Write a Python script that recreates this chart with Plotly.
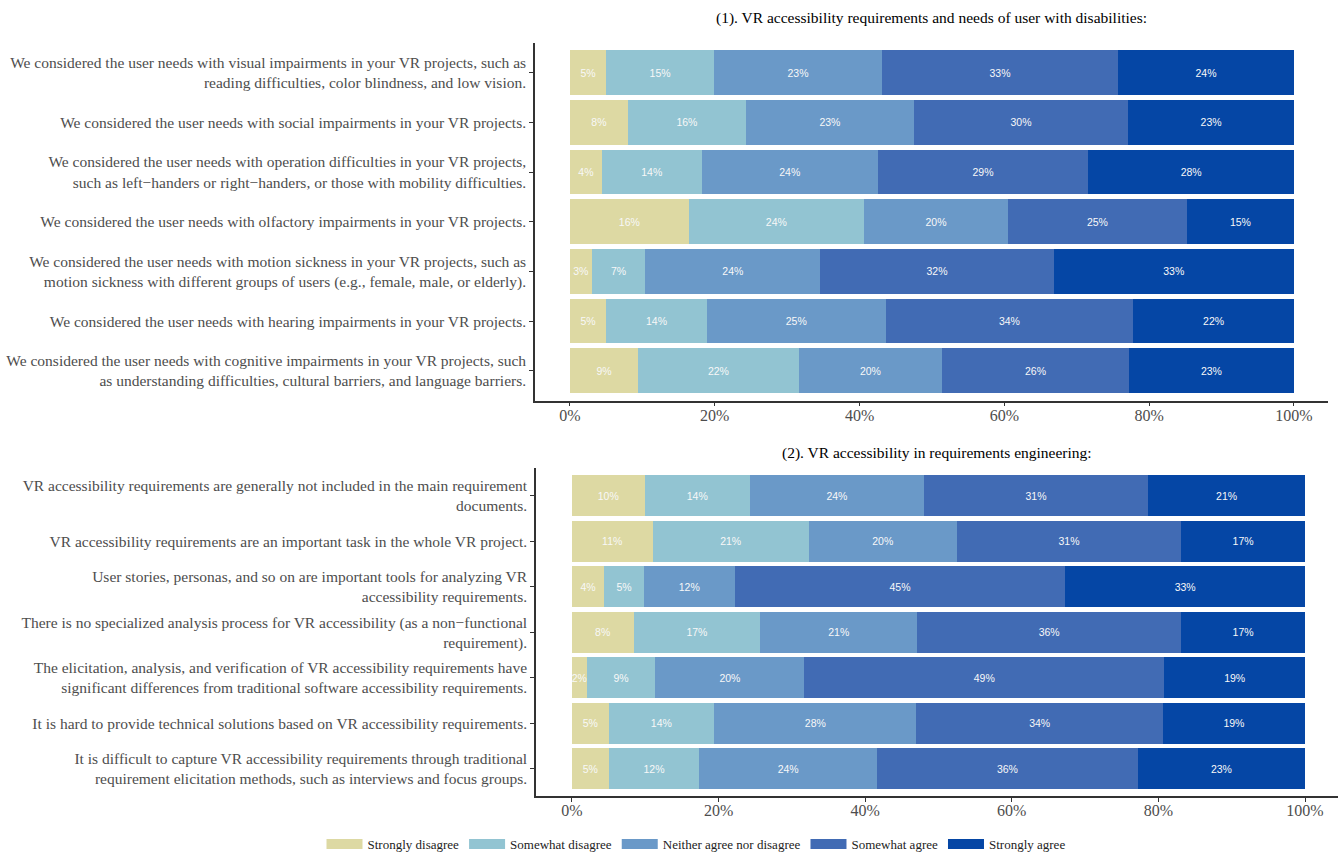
import plotly.graph_objects as go

W, H = 1341, 859

levels = ["Strongly disagree", "Somewhat disagree", "Neither agree nor disagree",
          "Somewhat agree", "Strongly agree"]
colors = ["#DDD9A3", "#92C4D2", "#6A99C8", "#416BB4", "#0546A5"]

# Panel 1 questions (top to bottom)
p1_questions = [
    "We considered the user needs with visual impairments in your VR projects, such as<br>reading difficulties, color blindness, and low vision.",
    "We considered the user needs with social impairments in your VR projects.",
    "We considered the user needs with operation difficulties in your VR projects,<br>such as left\u2212handers or right\u2212handers, or those with mobility difficulties.",
    "We considered the user needs with olfactory impairments in your VR projects.",
    "We considered the user needs with motion sickness in your VR projects, such as<br>motion sickness with different groups of users (e.g., female, male, or elderly).",
    "We considered the user needs with hearing impairments in your VR projects.",
    "We considered the user needs with cognitive impairments in your VR projects, such<br>as understanding difficulties, cultural barriers, and language barriers.",
]
p1_strongly_disagree = [5.0, 8.0, 4.4, 16.4, 3.0, 5.0, 9.4]
p1_somewhat_disagree = [14.9, 16.3, 13.8, 24.2, 7.4, 13.9, 22.2]
p1_neither = [23.2, 23.2, 24.3, 19.9, 24.2, 24.7, 19.8]
p1_somewhat_agree = [32.6, 29.6, 29.1, 24.7, 32.2, 34.2, 25.8]
p1_strongly_agree = [24.3, 22.9, 28.4, 14.8, 33.2, 22.2, 22.8]

# Panel 2 questions (top to bottom)
p2_questions = [
    "VR accessibility requirements are generally not included in the main requirement<br>documents.",
    "VR accessibility requirements are an important task in the whole VR project.",
    "User stories, personas, and so on are important tools for analyzing VR<br>accessibility requirements.",
    "There is no specialized analysis process for VR accessibility (as a non\u2212functional<br>requirement).",
    "The elicitation, analysis, and verification of VR accessibility requirements have<br>significant differences from traditional software accessibility requirements.",
    "It is hard to provide technical solutions based on VR accessibility requirements.",
    "It is difficult to capture VR accessibility requirements through traditional<br>requirement elicitation methods, such as interviews and focus groups.",
]
p2_strongly_disagree = [9.9, 11.0, 4.4, 8.4, 2.0, 5.0, 5.0]
p2_somewhat_disagree = [14.4, 21.3, 5.4, 17.3, 9.4, 14.4, 12.4]
p2_neither = [23.7, 20.2, 12.4, 21.4, 20.3, 27.6, 24.2]
p2_somewhat_agree = [30.6, 30.6, 45.1, 36.0, 49.1, 33.6, 35.6]
p2_strongly_agree = [21.4, 16.9, 32.7, 16.9, 19.2, 19.4, 22.8]

x_tickvals = [0, 20, 40, 60, 80, 100]
x_ticktext = ["0%", "20%", "40%", "60%", "80%", "100%"]

titles = ["(1). VR accessibility requirements and needs of user with disabilities:",
          "(2). VR accessibility in requirements engineering:"]

p1_series = [p1_strongly_disagree, p1_somewhat_disagree, p1_neither, p1_somewhat_agree, p1_strongly_agree]
p2_series = [p2_strongly_disagree, p2_somewhat_disagree, p2_neither, p2_somewhat_agree, p2_strongly_agree]

fig = go.Figure()

def add_panel(series, questions, xa, ya):
    for name, col, vals in zip(levels, colors, series):
        fig.add_trace(go.Bar(
            x=vals, y=questions, orientation="h", name=name,
            marker=dict(color=col, line=dict(width=0)),
            width=0.9,
            text=[f"{round(v)}%" for v in vals],
            textposition="inside", insidetextanchor="middle", textangle=0,
            constraintext="none",
            textfont=dict(family="Liberation Sans, Arial", size=10.5, color="#F8F8F8"),
            xaxis=xa, yaxis=ya, legendgroup=name, showlegend=False,
            hoverinfo="skip",
        ))

add_panel(p1_series, p1_questions, "x", "y")
add_panel(p2_series, p2_questions, "x2", "y2")

# legend keys (wide rectangular swatches)
for name, col in zip(levels, colors):
    fig.add_trace(go.Scatter(
        x=[None], y=[None], mode="lines", name=name,
        line=dict(color=col, width=12), legendgroup=name, showlegend=True,
        xaxis="x", yaxis="y", hoverinfo="skip",
    ))

axis_line = dict(showline=True, linecolor="#333333", linewidth=1.6, mirror=False,
                 ticks="outside", ticklen=4, tickwidth=1.2, tickcolor="#333333",
                 showgrid=False, zeroline=False)

serif = "Liberation Serif, Times New Roman, serif"

def px_x(a, b):
    return [a / W, b / W]

def px_y(top, bottom):
    return [1 - bottom / H, 1 - top / H]

fig.update_layout(
    width=W, height=H,
    margin=dict(l=0, r=0, t=0, b=0),
    paper_bgcolor="white", plot_bgcolor="white",
    barmode="stack", bargap=0.1,
    font=dict(family=serif, color="#4D4D4D"),
    xaxis=dict(domain=px_x(535, 1328), range=[-4.83, 104.7], anchor="y",
               tickvals=x_tickvals, ticktext=x_ticktext,
               tickfont=dict(family=serif, size=16, color="#4D4D4D"),
               ticklabelstandoff=-5, **axis_line),
    yaxis=dict(domain=px_y(43, 402), range=[6.6, -0.6], anchor="x",
               type="category", categoryorder="array", categoryarray=p1_questions,
               tickfont=dict(family=serif, size=15.5, color="#4D4D4D"),
               ticklabelstandoff=0, **axis_line),
    xaxis2=dict(domain=px_x(536, 1338), range=[-4.9, 104.5], anchor="y2",
                tickvals=x_tickvals, ticktext=x_ticktext,
                tickfont=dict(family=serif, size=16, color="#4D4D4D"),
                ticklabelstandoff=-5, **axis_line),
    yaxis2=dict(domain=px_y(470, 799), range=[6.6, -0.6], anchor="x2",
                type="category", categoryorder="array", categoryarray=p2_questions,
                tickfont=dict(family=serif, size=15.5, color="#4D4D4D"),
                ticklabelstandoff=0, **axis_line),
    legend=dict(orientation="h", x=696 / W, xanchor="center", y=1 - 847 / H, yanchor="middle",
                font=dict(family=serif, size=13, color="#222222"),
                traceorder="normal", itemwidth=36, bgcolor="rgba(0,0,0,0)"),
    annotations=[
        dict(text=titles[0], x=931 / W, y=1 - 18 / H, xref="paper", yref="paper",
             showarrow=False, xanchor="center", yanchor="middle",
             font=dict(family=serif, size=15.5, color="#000000")),
        dict(text=titles[1], x=937 / W, y=1 - 455 / H, xref="paper", yref="paper",
             showarrow=False, xanchor="center", yanchor="middle",
             font=dict(family=serif, size=15.5, color="#000000")),
    ],
)

fig.write_html("out.html")
